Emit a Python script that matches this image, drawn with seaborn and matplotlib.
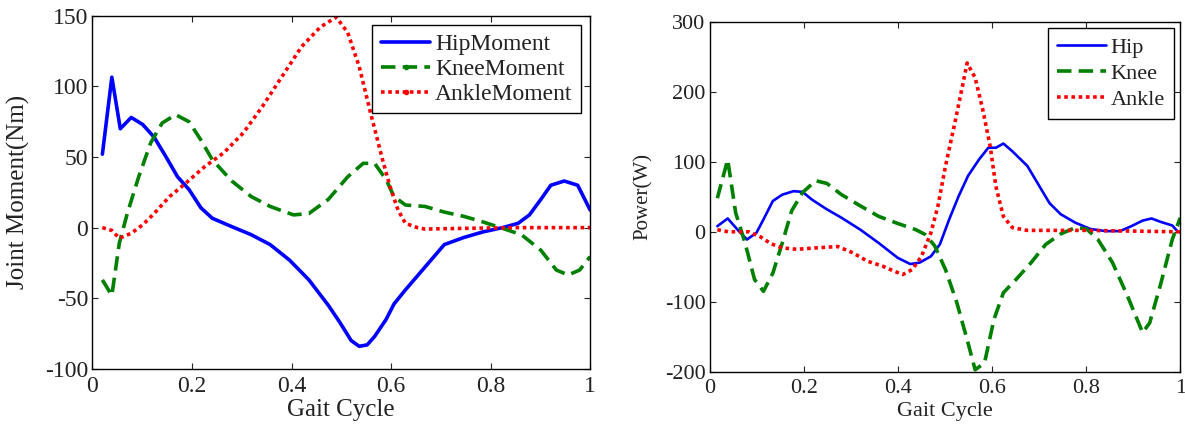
import matplotlib
matplotlib.use('Agg')
import matplotlib.pyplot as plt
import seaborn as sns
from matplotlib.lines import Line2D

# Joint moment (left panel)
hip_m_x = [0.02, 0.039, 0.056, 0.078, 0.101, 0.124, 0.148, 0.171, 0.194, 0.218, 0.241, 0.28, 0.319,
           0.357, 0.396, 0.435, 0.474, 0.497, 0.52, 0.536, 0.552, 0.567, 0.59, 0.606, 0.629, 0.668,
           0.707, 0.746, 0.785, 0.824, 0.855, 0.878, 0.901, 0.921, 0.948, 0.975, 1.0]
hip_m_y = [52, 106.5, 70, 78, 73, 64, 50, 36, 27, 14, 6.6, 0.7, -5,
           -12, -23, -37, -55, -67, -80, -84, -83, -77, -65, -54, -44, -28,
           -12, -7, -3, 0, 3, 9, 20, 30, 33, 30, 12.5]

knee_m_x = [0.02, 0.039, 0.054, 0.07, 0.093, 0.117, 0.14, 0.167, 0.194, 0.218, 0.241, 0.28, 0.319,
            0.357, 0.404, 0.435, 0.474, 0.513, 0.544, 0.567, 0.59, 0.606, 0.629, 0.668, 0.707,
            0.746, 0.785, 0.824, 0.862, 0.901, 0.932, 0.956, 0.979, 1.0]
knee_m_y = [-37, -48, -11, 10, 36, 60, 74, 80, 75, 62, 48, 33, 22,
            15, 9, 10, 20, 36, 45.5, 45.5, 34, 22, 16, 15, 11,
            8, 4, -0.5, -5, -16, -30, -33.5, -30, -20.5]

ankle_m_x = [0.02, 0.039, 0.054, 0.078, 0.101, 0.124, 0.155, 0.186, 0.225, 0.264, 0.303, 0.342, 0.381,
             0.42, 0.458, 0.49, 0.513, 0.536, 0.559, 0.583, 0.598, 0.614, 0.629, 0.653, 0.668,
             0.75, 0.85, 1.0]
ankle_m_y = [0, -2, -7.5, -4, 2, 10, 22, 31, 43, 53, 67, 86, 107,
             128, 142, 149, 138, 114, 81, 48, 29, 12.5, 3, 0, -1,
             -0.5, 0, 0]

# Power (right panel)
hip_p_x = [0.016, 0.038, 0.059, 0.079, 0.099, 0.114, 0.134, 0.154, 0.178, 0.197, 0.217, 0.249, 0.28,
           0.32, 0.359, 0.399, 0.426, 0.446, 0.47, 0.489, 0.509, 0.529, 0.549, 0.572, 0.592, 0.608,
           0.624, 0.643, 0.675, 0.698, 0.722, 0.746, 0.777, 0.809, 0.841, 0.872, 0.896, 0.92, 0.939,
           0.959, 0.983, 0.995]
hip_p_y = [8, 19, 3, -11, -1.5, 17.6, 44, 53, 58, 57, 46, 32, 20,
           3, -16, -37, -46, -44, -35, -18, 18, 51, 80, 103, 120, 120,
           126, 115, 94, 68, 41, 25, 13, 4, 1, 1, 8, 16, 19,
           14, 9, 0]

knee_p_x = [0.016, 0.038, 0.055, 0.075, 0.095, 0.114, 0.134, 0.154, 0.174, 0.197, 0.225, 0.249, 0.28,
            0.32, 0.359, 0.399, 0.438, 0.458, 0.478, 0.501, 0.525, 0.549, 0.564, 0.584, 0.604, 0.624,
            0.651, 0.683, 0.714, 0.746, 0.777, 0.801, 0.825, 0.856, 0.888, 0.92, 0.935, 0.959, 0.983, 1.0]
knee_p_y = [48, 103, 27, -16, -68, -85, -59, -16, 30, 56, 73, 69, 53,
            37, 22, 12, 3, -4, -20, -54, -101, -159, -197, -187, -125, -87,
            -68, -44, -18, -3, 6, 4, -11, -44, -92, -144, -130, -73, -11, 20]

ankle_p_x = [0.016, 0.039, 0.083, 0.107, 0.13, 0.154, 0.185, 0.225, 0.272, 0.304, 0.335, 0.367, 0.391,
             0.41, 0.43, 0.45, 0.47, 0.485, 0.501, 0.521, 0.537, 0.547, 0.564, 0.58, 0.596, 0.608,
             0.624, 0.643, 0.675, 0.8, 0.9, 1.0]
ankle_p_y = [3, 0, 0, -7, -17, -23, -25, -23, -21, -30, -42, -49, -56,
             -61, -54, -35, -1.4, 37, 94, 156, 208, 241, 220, 175, 122, 65,
             22, 6, 2, 2, 1, 0]

xticks = [0, 0.2, 0.4, 0.6, 0.8, 1]
xtick_labels = ['0', '0.2', '0.4', '0.6', '0.8', '1']

sns.set_style('ticks')
plt.rcParams['font.family'] = ['Liberation Serif', 'DejaVu Serif']
plt.rcParams['axes.unicode_minus'] = False
plt.rcParams['text.color'] = '#222222'
plt.rcParams['axes.labelcolor'] = '#222222'
plt.rcParams['xtick.color'] = '#222222'
plt.rcParams['ytick.color'] = '#222222'

fig = plt.figure(figsize=(11.85, 4.25), dpi=100)
ax1 = fig.add_axes([0.078, 0.132, 0.42, 0.831])
ax2 = fig.add_axes([0.599, 0.125, 0.397, 0.824])

blue, green, red = '#0000ff', '#008000', '#ff0000'
dash = (0, (4, 2))
dot = (0, (1, 1))

# left panel: joint moments
sns.lineplot(x=hip_m_x, y=hip_m_y, ax=ax1, color=blue, linewidth=2.6, sort=False)
sns.lineplot(x=knee_m_x, y=knee_m_y, ax=ax1, color=green, linewidth=2.6, sort=False, linestyle=dash)
sns.lineplot(x=ankle_m_x, y=ankle_m_y, ax=ax1, color=red, linewidth=2.6, sort=False, linestyle=dot)
ax1.set_xlim(0, 1)
ax1.set_ylim(-100, 150)
ax1.set_yticks([-100, -50, 0, 50, 100, 150])
ax1.set_xticks(xticks)
ax1.set_xticklabels(xtick_labels)
ax1.set_xlabel('Gait Cycle', fontsize=18)
ax1.set_ylabel('Joint Moment(Nm)', fontsize=18)
ax1.xaxis.set_label_coords(0.5, -0.085)
ax1.yaxis.set_label_coords(-0.125, 0.5)
h1 = [Line2D([], [], color=blue, linewidth=2.6),
      Line2D([], [], color=green, linewidth=2.6, linestyle=dash, marker='.', markersize=6),
      Line2D([], [], color=red, linewidth=2.6, linestyle=dot, marker='.', markersize=6)]
leg1 = ax1.legend(h1, ['HipMoment', 'KneeMoment', 'AnkleMoment'], loc='upper right',
                  fancybox=False, framealpha=1, edgecolor='black', handlelength=2.1,
                  handletextpad=0.2, borderaxespad=0.4, labelspacing=0.15, borderpad=0.35,
                  fontsize=17)
leg1.get_frame().set_linewidth(1.0)

# right panel: power
sns.lineplot(x=hip_p_x, y=hip_p_y, ax=ax2, color=blue, linewidth=1.9, sort=False)
sns.lineplot(x=knee_p_x, y=knee_p_y, ax=ax2, color=green, linewidth=2.6, sort=False, linestyle=dash)
sns.lineplot(x=ankle_p_x, y=ankle_p_y, ax=ax2, color=red, linewidth=2.6, sort=False, linestyle=dot)
ax2.set_xlim(0, 1)
ax2.set_ylim(-200, 300)
ax2.set_yticks([-200, -100, 0, 100, 200, 300])
ax2.set_xticks(xticks)
ax2.set_xticklabels(xtick_labels)
ax2.set_xlabel('Gait Cycle', fontsize=16)
ax2.set_ylabel('Power(W)', fontsize=15)
ax2.xaxis.set_label_coords(0.5, -0.085)
ax2.yaxis.set_label_coords(-0.122, 0.5)
h2 = [Line2D([], [], color=blue, linewidth=1.9),
      Line2D([], [], color=green, linewidth=2.6, linestyle=dash),
      Line2D([], [], color=red, linewidth=2.6, linestyle=dot)]
leg2 = ax2.legend(h2, ['Hip', 'Knee', 'Ankle'], loc='upper right',
                  fancybox=False, framealpha=1, edgecolor='black', handlelength=2.2,
                  handletextpad=0.2, borderaxespad=0.3, labelspacing=0.25, fontsize=16)
leg2.get_frame().set_linewidth(1.0)

for ax, fs in ((ax1, 17), (ax2, 16)):
    ax.tick_params(direction='in', top=True, right=True, length=4, width=0.8, labelsize=fs)
    ax.tick_params(axis='x', pad=5)
    ax.tick_params(axis='y', pad=3)
    for s in ax.spines.values():
        s.set_visible(True)
        s.set_linewidth(1.0)
        s.set_color('black')

fig.savefig('out.png', dpi=100)
